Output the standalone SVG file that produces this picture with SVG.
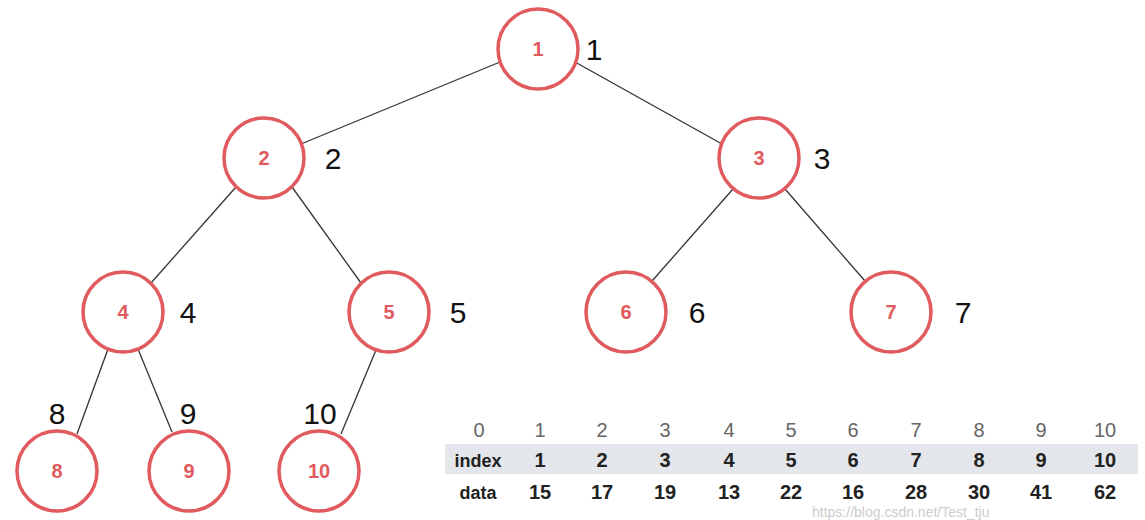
<svg xmlns="http://www.w3.org/2000/svg" width="1145" height="520" viewBox="0 0 1145 520">
<style>
.n circle{fill:#fff;stroke:#e05a5e;stroke-width:3.5}
.n text{font-family:"Liberation Sans",Arial,sans-serif;font-weight:bold;font-size:20px;fill:#e05a5e;text-anchor:middle;dominant-baseline:central}
.lbl{font-family:"Liberation Sans",Arial,sans-serif;font-size:30px;fill:#111;text-anchor:middle;dominant-baseline:central}
.e line{stroke:#333;stroke-width:1.3}
.h{font-family:"Liberation Sans",Arial,sans-serif;font-size:20px;fill:#666;text-anchor:middle}
.b{font-family:"Liberation Sans",Arial,sans-serif;font-size:20px;font-weight:bold;fill:#222;text-anchor:middle}
</style>
<rect width="1145" height="520" fill="#fff"/>
<g id="connectors" class="e">
<line x1="500" y1="62" x2="301" y2="144"/>
<line x1="575" y1="62" x2="722" y2="144"/>
<line x1="236" y1="187" x2="151" y2="283"/>
<line x1="292" y1="187" x2="361" y2="283"/>
<line x1="733" y1="189" x2="652" y2="281"/>
<line x1="785" y1="189" x2="865" y2="281"/>
<line x1="108" y1="349" x2="77" y2="434"/>
<line x1="138" y1="349" x2="172" y2="432"/>
<line x1="376" y1="350" x2="341" y2="434"/>
</g>
<g id="node1" class="n"><circle cx="538" cy="49" r="40"/><text x="538" y="49">1</text></g>
<g id="node2" class="n"><circle cx="264" cy="158" r="40"/><text x="264" y="158">2</text></g>
<g id="node3" class="n"><circle cx="759" cy="158" r="40"/><text x="759" y="158">3</text></g>
<g id="node4" class="n"><circle cx="123" cy="312" r="40"/><text x="123" y="312">4</text></g>
<g id="node5" class="n"><circle cx="389" cy="312" r="40"/><text x="389" y="312">5</text></g>
<g id="node6" class="n"><circle cx="626" cy="312" r="40"/><text x="626" y="312">6</text></g>
<g id="node7" class="n"><circle cx="891" cy="312" r="40"/><text x="891" y="312">7</text></g>
<g id="node8" class="n"><circle cx="57" cy="471" r="40"/><text x="57" y="471">8</text></g>
<g id="node9" class="n"><circle cx="189" cy="471" r="40"/><text x="189" y="471">9</text></g>
<g id="node10" class="n"><circle cx="319" cy="471" r="40"/><text x="319" y="471">10</text></g>
<g id="labels">
<text class="lbl" x="594" y="49">1</text>
<text class="lbl" x="333" y="158">2</text>
<text class="lbl" x="822" y="158">3</text>
<text class="lbl" x="188" y="312">4</text>
<text class="lbl" x="458" y="312">5</text>
<text class="lbl" x="697" y="312">6</text>
<text class="lbl" x="963" y="312">7</text>
<text class="lbl" x="57" y="413">8</text>
<text class="lbl" x="188" y="413">9</text>
<text class="lbl" x="320" y="413">10</text>
</g>
<g id="table">
<rect x="445" y="444" width="693" height="30" fill="#e3e6ea"/>
<g class="h">
<text x="479" y="437">0</text><text x="540" y="437">1</text><text x="602" y="437">2</text><text x="665" y="437">3</text><text x="729" y="437">4</text><text x="791" y="437">5</text><text x="853" y="437">6</text><text x="916" y="437">7</text><text x="979" y="437">8</text><text x="1041" y="437">9</text><text x="1105" y="437">10</text>
</g>
<g class="b">
<text x="478" y="467" style="font-size:18px">index</text><text x="540" y="467">1</text><text x="602" y="467">2</text><text x="665" y="467">3</text><text x="729" y="467">4</text><text x="791" y="467">5</text><text x="853" y="467">6</text><text x="916" y="467">7</text><text x="979" y="467">8</text><text x="1041" y="467">9</text><text x="1105" y="467">10</text>
</g>
<g class="b">
<text x="478" y="499" style="font-size:18px">data</text><text x="540" y="499">15</text><text x="602" y="499">17</text><text x="665" y="499">19</text><text x="729" y="499">13</text><text x="791" y="499">22</text><text x="853" y="499">16</text><text x="916" y="499">28</text><text x="979" y="499">30</text><text x="1041" y="499">41</text><text x="1105" y="499">62</text>
</g>
<text x="812" y="517" font-family="Liberation Sans,Arial,sans-serif" font-size="14" fill="#ccc">https://blog.csdn.net/Test_tju</text>
</g>
</svg>
